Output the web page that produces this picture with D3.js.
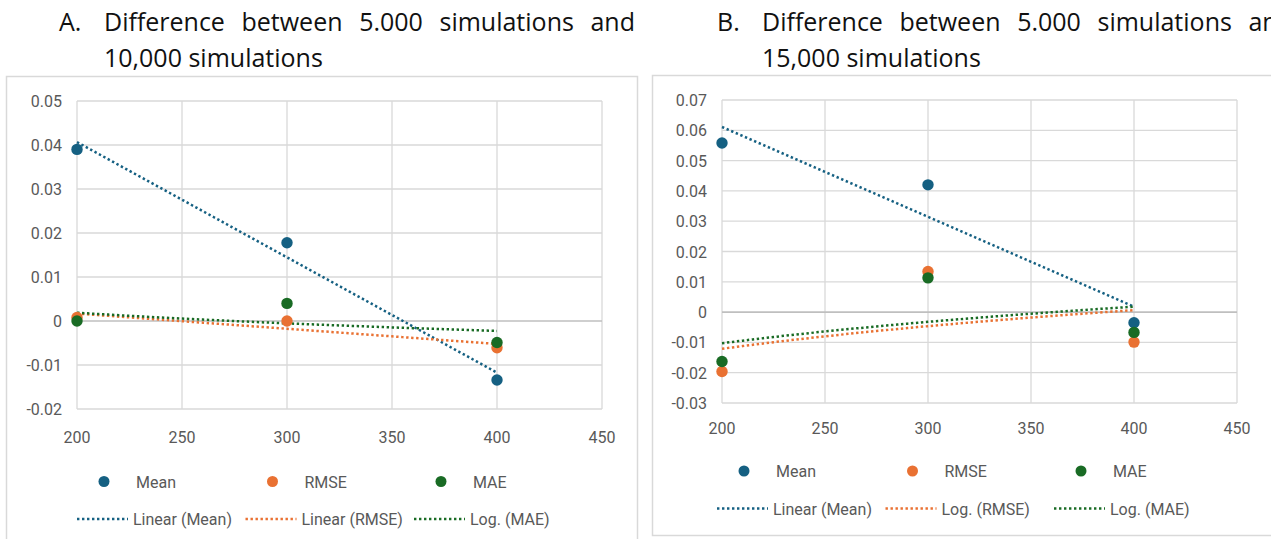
<!DOCTYPE html>
<html>
<head>
<meta charset="utf-8">
<script src="https://cdn.jsdelivr.net/npm/d3@7"></script>
<style>
  body { margin: 0; background: #fff; overflow: hidden; }
  #wrap { position: relative; width: 1271px; height: 539px; overflow: hidden; }
  .title { position: absolute; font-family: "Open Sans", "Noto Sans", sans-serif; font-size: 25px; line-height: 36px; color: #111; white-space: nowrap; }
  .just { text-align: justify; text-align-last: justify; white-space: normal; }
  svg { position: absolute; left: 0; top: 0; }
</style>
</head>
<body>
<div id="wrap">
  <svg id="chart" width="1271" height="539"></svg>
</div>
<script>
// x values shared by both panels
const sizes = [200, 300, 400];
const xTicks = [200, 250, 300, 350, 400, 450];

// Panel A: 5,000 vs 10,000 simulations
const meanA = [0.039, 0.0178, -0.0134];
const rmseA = [0.0008, 0.0000, -0.0061];
const maeA = [0.0000, 0.0040, -0.0049];
const yTicksA = [-0.02, -0.01, 0, 0.01, 0.02, 0.03, 0.04, 0.05];

// Panel B: 5,000 vs 15,000 simulations
const meanB = [0.0558, 0.0420, -0.0035];
const rmseB = [-0.0196, 0.0134, -0.0099];
const maeB = [-0.0163, 0.0113, -0.0067];
const yTicksB = [-0.03, -0.02, -0.01, 0, 0.01, 0.02, 0.03, 0.04, 0.05, 0.06, 0.07];

const colors = { Mean: "#156082", RMSE: "#E97132", MAE: "#196B24" };
const textColor = "#595959";
const gridColor = "#D9D9D9";
const labelFont = "Roboto, 'Liberation Sans', sans-serif";

// least squares fit, optionally on ln(x)
const fitTrend = (xs, ys, log) => {
  const tx = xs.map((x) => (log ? Math.log(x) : x));
  const mx = d3.mean(tx);
  const my = d3.mean(ys);
  const sxy = d3.sum(tx, (t, i) => (t - mx) * (ys[i] - my));
  const sxx = d3.sum(tx, (t) => (t - mx) * (t - mx));
  const b = sxy / sxx;
  const a = my - b * mx;
  return (x) => a + b * (log ? Math.log(x) : x);
};

const addTitle = (left, label, line1, line2) => {
  const l = d3.select("#wrap");
  l.append("div").attr("class", "title").style("left", left + "px").style("top", "3px").text(label);
  l.append("div").attr("class", "title just")
    .style("left", left + 45 + "px").style("top", "3px").style("width", "531px")
    .text(line1);
  l.append("div").attr("class", "title").style("left", left + 45 + "px").style("top", "39px").text(line2);
};

const svg = d3.select("#chart");

const drawPanel = (cfg) => {
  const g = svg.append("g");

  // outer frame
  g.append("rect")
    .attr("x", cfg.frame[0] + 0.5).attr("y", cfg.frame[1] + 0.5)
    .attr("width", cfg.frame[2]).attr("height", cfg.frame[3])
    .attr("fill", "#fff").attr("stroke", gridColor).attr("stroke-width", 1.5);

  const x = d3.scaleLinear().domain([200, 450]).range(cfg.xRange);
  const y = d3.scaleLinear().domain(d3.extent(cfg.yTicks)).range(cfg.yRange);

  // grid
  g.selectAll(".hgrid").data(cfg.yTicks.filter((d) => d !== 0)).enter().append("line")
    .attr("x1", cfg.xRange[0]).attr("x2", cfg.xRange[1])
    .attr("y1", (d) => y(d)).attr("y2", (d) => y(d))
    .attr("stroke", gridColor).attr("stroke-width", 1.3);
  g.selectAll(".vgrid").data(xTicks).enter().append("line")
    .attr("x1", (d) => x(d)).attr("x2", (d) => x(d))
    .attr("y1", cfg.yRange[0]).attr("y2", cfg.yRange[1])
    .attr("stroke", gridColor).attr("stroke-width", 1.3);
  g.append("line")
    .attr("x1", cfg.xRange[0]).attr("x2", cfg.xRange[1])
    .attr("y1", y(0)).attr("y2", y(0))
    .attr("stroke", "#BFBFBF").attr("stroke-width", 1.6);

  // tick labels
  const fmt = (d) => (d === 0 ? "0" : d.toFixed(2));
  g.selectAll(".ylab").data(cfg.yTicks).enter().append("text")
    .attr("x", cfg.xRange[0] - 15).attr("y", (d) => y(d) + 6)
    .attr("text-anchor", "end")
    .style("font-family", labelFont)
    .style("font-size", "16px").style("fill", textColor)
    .text(fmt);
  g.selectAll(".xlab").data(xTicks).enter().append("text")
    .attr("x", (d) => x(d)).attr("y", cfg.yRange[0] + cfg.xLabOff)
    .attr("text-anchor", "middle")
    .style("font-family", labelFont)
    .style("font-size", "16px").style("fill", textColor)
    .text((d) => d);

  // trendlines
  const line = d3.line().x((d) => x(d[0])).y((d) => y(d[1]));
  cfg.trends.forEach((t) => {
    const f = fitTrend(sizes, t.values, t.log);
    const pts = d3.range(200, 401, 5).map((v) => [v, f(v)]);
    g.append("path").datum(pts)
      .attr("d", line).attr("fill", "none")
      .attr("stroke", colors[t.name]).attr("stroke-width", 2.5)
      .attr("stroke-dasharray", "2.4,2.6");
  });

  // points
  cfg.series.forEach((s) => {
    g.selectAll(null).data(s.values).enter().append("circle")
      .attr("cx", (d, i) => x(sizes[i])).attr("cy", (d) => y(d))
      .attr("r", 5.7).attr("fill", colors[s.name]);
  });

  // legend
  const lg = g.append("g").style("font-family", labelFont)
    .style("font-size", "16px").style("fill", textColor);
  cfg.series.forEach((s, i) => {
    const lx = cfg.legendX + i * 168.5;
    lg.append("circle").attr("cx", lx + 27).attr("cy", cfg.legendY).attr("r", 5.5).attr("fill", colors[s.name]);
    lg.append("text").attr("x", lx + 59).attr("y", cfg.legendY + 6).text(s.name);
  });
  cfg.trends.forEach((t, i) => {
    const lx = cfg.legendX + i * 168.5;
    const ly = cfg.legendY + 37.5;
    lg.append("line")
      .attr("x1", lx).attr("x2", lx + 51)
      .attr("y1", ly).attr("y2", ly)
      .attr("stroke", colors[t.name]).attr("stroke-width", 2.4)
      .attr("stroke-dasharray", "2.4,2.6");
    lg.append("text").attr("x", lx + 56).attr("y", ly + 6).text(t.label);
  });
};

drawPanel({
  frame: [6, 76, 631, 480],
  xRange: [77, 602],
  yRange: [409, 101],
  yTicks: yTicksA,
  xLabOff: 34,
  series: [
    { name: "Mean", values: meanA },
    { name: "RMSE", values: rmseA },
    { name: "MAE", values: maeA },
  ],
  trends: [
    { name: "Mean", values: meanA, log: false, label: "Linear (Mean)" },
    { name: "RMSE", values: rmseA, log: false, label: "Linear (RMSE)" },
    { name: "MAE", values: maeA, log: true, label: "Log. (MAE)" },
  ],
  legendX: 77,
  legendY: 481.5,
});

drawPanel({
  frame: [652, 75, 700, 460],
  xRange: [722, 1237],
  yRange: [403, 100],
  yTicks: yTicksB,
  xLabOff: 31,
  series: [
    { name: "Mean", values: meanB },
    { name: "RMSE", values: rmseB },
    { name: "MAE", values: maeB },
  ],
  trends: [
    { name: "Mean", values: meanB, log: false, label: "Linear (Mean)" },
    { name: "RMSE", values: rmseB, log: true, label: "Log. (RMSE)" },
    { name: "MAE", values: maeB, log: true, label: "Log. (MAE)" },
  ],
  legendX: 717,
  legendY: 471,
});

addTitle(59, "A.", "Difference between 5.000 simulations and", "10,000 simulations");
addTitle(717, "B.", "Difference between 5.000 simulations and", "15,000 simulations");
</script>
</body>
</html>
